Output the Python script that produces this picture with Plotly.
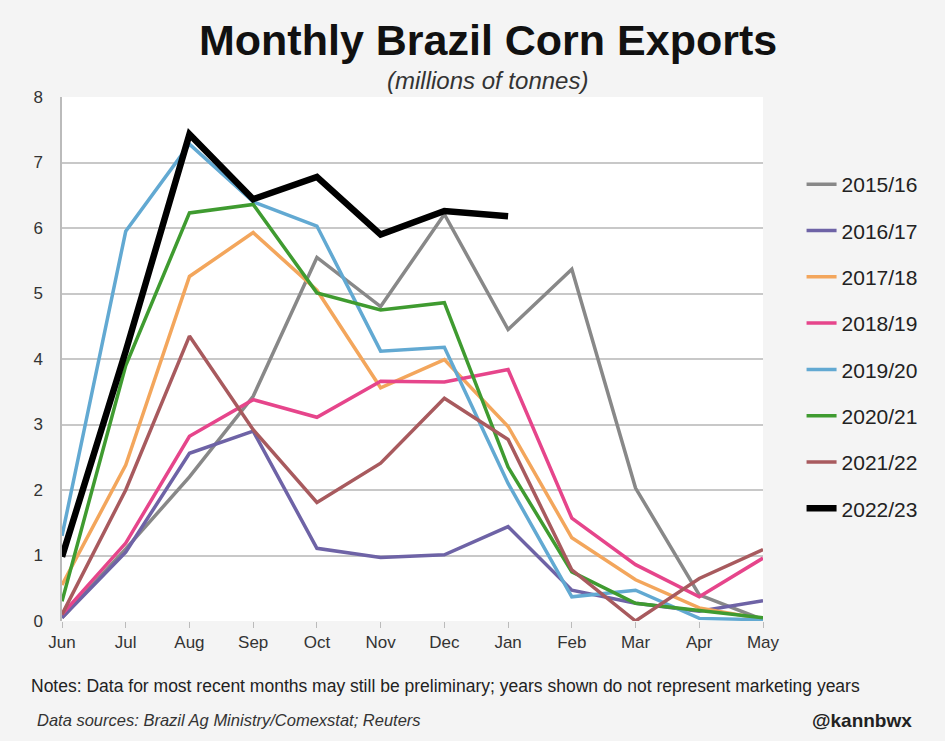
import plotly.graph_objects as go

months = ["Jun", "Jul", "Aug", "Sep", "Oct", "Nov", "Dec", "Jan", "Feb", "Mar", "Apr", "May"]

y2015_16 = [0.05, 1.1, 2.2, 3.43, 5.55, 4.8, 6.21, 4.45, 5.37, 2.03, 0.4, 0.02]
y2016_17 = [0.05, 1.05, 2.56, 2.9, 1.11, 0.97, 1.01, 1.44, 0.47, 0.27, 0.15, 0.31]
y2017_18 = [0.55, 2.38, 5.26, 5.93, 5.05, 3.56, 3.99, 2.97, 1.27, 0.63, 0.2, 0.03]
y2018_19 = [0.1, 1.19, 2.82, 3.38, 3.11, 3.66, 3.65, 3.84, 1.57, 0.86, 0.37, 0.96]
y2019_20 = [1.3, 5.95, 7.28, 6.4, 6.03, 4.12, 4.18, 2.1, 0.37, 0.47, 0.04, 0.02]
y2020_21 = [0.3, 3.9, 6.23, 6.36, 5.01, 4.75, 4.86, 2.35, 0.75, 0.27, 0.16, 0.05]
y2021_22 = [0.1, 2.0, 4.35, 2.92, 1.81, 2.41, 3.4, 2.77, 0.78, 0.0, 0.65, 1.09]
y2022_23 = [0.98, 4.12, 7.43, 6.44, 6.78, 5.9, 6.26, 6.18]

series = [
    ("2015/16", y2015_16, "#888888", 3.5),
    ("2016/17", y2016_17, "#6e63a6", 3.5),
    ("2017/18", y2017_18, "#f3a65c", 3.5),
    ("2018/19", y2018_19, "#e6458b", 3.5),
    ("2019/20", y2019_20, "#62a9d2", 3.5),
    ("2020/21", y2020_21, "#3f9b30", 3.5),
    ("2021/22", y2021_22, "#a85a5e", 3.5),
    ("2022/23", y2022_23, "#000000", 6.5),
]

fig = go.Figure()
for i, (name, vals, color, width) in enumerate(series):
    fig.add_trace(go.Scatter(
        x=months[:len(vals)], y=vals, name=name, mode="lines",
        line=dict(color=color, width=width),
        legendgroup=f"g{i}",
    ))

font_family = "Liberation Sans, Arial, sans-serif"

fig.update_layout(
    width=945, height=741,
    margin=dict(l=62, r=182, t=97, b=120),
    paper_bgcolor="#f4f4f4",
    plot_bgcolor="#ffffff",
    font=dict(family=font_family, color="#222222"),
    showlegend=True,
    legend=dict(
        x=1.055, y=0.872, xanchor="left", yanchor="top",
        font=dict(size=21, color="#222222"),
        tracegroupgap=16,
        bgcolor="rgba(0,0,0,0)",
        itemwidth=30,
    ),
    xaxis=dict(
        type="category", categoryorder="array", categoryarray=months,
        range=[0, 11], showgrid=False, zeroline=False,
        showline=False, ticks="outside", ticklen=6, tickcolor="#bbbbbb",
        tickfont=dict(size=17, color="#333333"),
    ),
    yaxis=dict(
        range=[0, 8], dtick=1, showgrid=True, gridcolor="#c8c8c8", gridwidth=1.5,
        zeroline=False, showline=True, linecolor="#bbbbbb", linewidth=1.5,
        tickfont=dict(size=17, color="#333333"), ticks="", ticklabelstandoff=14,
    ),
)

fig.add_annotation(
    text="<b>Monthly Brazil Corn Exports</b>", xref="paper", yref="paper",
    x=0.607, y=1.0, yshift=57, xanchor="center", yanchor="middle", showarrow=False,
    font=dict(size=43, color="#111111"),
)
fig.add_annotation(
    text="<i>(millions of tonnes)</i>", xref="paper", yref="paper",
    x=0.607, y=1.0, yshift=17, xanchor="center", yanchor="middle", showarrow=False,
    font=dict(size=24, color="#333333"),
)
fig.add_annotation(
    text="Notes: Data for most recent months may still be preliminary; years shown do not represent marketing years",
    xref="paper", yref="paper", x=-0.047, y=0, yshift=-65, xanchor="left", yanchor="middle",
    showarrow=False, font=dict(size=17.5, color="#222222"),
)
fig.add_annotation(
    text="<i>Data sources: Brazil Ag Ministry/Comexstat; Reuters</i>",
    xref="paper", yref="paper", x=-0.039, y=0, yshift=-99, xanchor="left", yanchor="middle",
    showarrow=False, font=dict(size=16.5, color="#333333"),
)
fig.add_annotation(
    text="<b>@kannbwx</b>",
    xref="paper", yref="paper", x=1.141, y=0, yshift=-99, xanchor="center", yanchor="middle",
    showarrow=False, font=dict(size=19, color="#222222"),
)

fig.write_html("out.html")
